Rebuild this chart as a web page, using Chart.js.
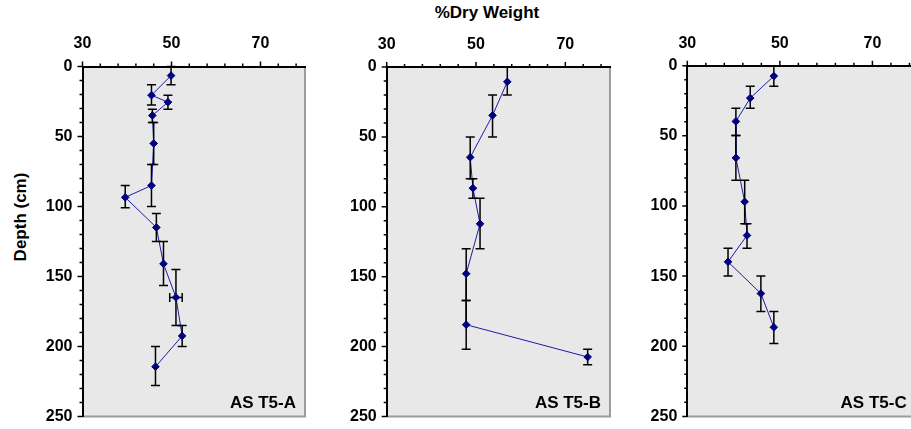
<!DOCTYPE html>
<html>
<head>
<meta charset="utf-8">
<script src="https://cdn.jsdelivr.net/npm/chart.js@4.4.1/dist/chart.umd.min.js"></script>
<style>
  html, body { margin: 0; padding: 0; overflow: hidden; background: #fff; }
  body { width: 911px; height: 429px; position: relative; font-family: "Liberation Sans", Arial, sans-serif; }
  canvas { position: absolute; top: 0; }
  .lbl { position: absolute; font-weight: bold; font-size: 17px; color: #000; white-space: nowrap; }
</style>
</head>
<body>
<div class="lbl" id="xt" style="left:487px; top:13px; transform:translate(-50%,-50%);">%Dry Weight</div>
<div class="lbl" id="yt" style="left:21px; top:217px; transform:translate(-50%,-50%) rotate(-90deg);">Depth (cm)</div>
<canvas id="cA" width="310" height="436" style="left:0px"></canvas>
<canvas id="cB" width="305" height="436" style="left:310px"></canvas>
<canvas id="cC" width="311" height="436" style="left:615px"></canvas>
<script>
/* tick values / labels */
const xTickValues = [30, 34, 38, 42, 46, 50, 54, 58, 62, 66, 70, 74, 78];
const xTickLabels = [30, 50, 70];
const yTickValues = [0, 10, 20, 30, 40, 50, 60, 70, 80, 90, 100, 110, 120, 130, 140, 150, 160, 170, 180, 190, 200, 210, 220, 230, 240, 250];
const yTickLabels = [0, 50, 100, 150, 200, 250];

/* AS T5-A */
const dryA   = [49.9, 45.5, 49.2, 45.7, 46.0, 45.5, 39.6, 46.6, 48.2, 51.0, 52.4, 46.4];
const depthA = [6.5, 20.5, 25.5, 35, 55, 85, 93.5, 115, 141, 165, 192.5, 214.5];
const topA   = [0, 13, 20.5, 30.5, 40, 70, 85, 105, 125, 145, 185, 200];
const botA   = [13, 27.5, 30.5, 40, 70, 100, 101, 125, 156.5, 185, 200, 228];
const xErrA  = [0, 0, 0, 0, 0, 0, 0, 0, 0, 1.4, 0, 0];

/* AS T5-B */
const dryB   = [57.0, 53.7, 48.7, 49.3, 50.9, 47.8, 47.8, 75.0];
const depthB = [10.6, 34.6, 64.6, 86.7, 112.2, 147.9, 184.4, 207.5];
const topB   = [0, 20, 50, 80, 94, 130, 167, 202];
const botB   = [20, 50, 80, 94, 130, 167, 202, 213];
const xErrB  = [0, 0, 0, 0, 0, 0, 0, 0];

/* AS T5-C */
const dryC   = [48.7, 43.6, 40.5, 40.5, 42.4, 42.9, 38.8, 45.9, 48.7];
const depthC = [7.4, 23.1, 39.7, 65.7, 97, 121, 139.8, 162.4, 186.5];
const topC   = [0, 14.7, 30.3, 49.8, 81.6, 112.6, 130.2, 150, 175.2];
const botC   = [14.7, 30.3, 49.8, 81.6, 112.6, 130.2, 150, 175.2, 198];
const xErrC  = [0, 0, 0, 0, 0, 0, 0, 0, 0];

const FONT = "'Liberation Sans', Arial, sans-serif";

// fond gris, bordures, barres d'erreur, petites graduations
const panelPlugin = {
  id: 'panel',
  beforeDraw(chart) {
    const { ctx, chartArea: a } = chart;
    ctx.save();
    ctx.fillStyle = '#e8e8e8';
    ctx.fillRect(a.left, a.top, a.right - a.left, a.bottom - a.top);
    ctx.strokeStyle = '#9c9c9c';
    ctx.lineWidth = 2;
    ctx.beginPath();
    ctx.moveTo(a.left, a.bottom);
    ctx.lineTo(a.right, a.bottom);
    ctx.lineTo(a.right, a.top);
    ctx.stroke();
    ctx.restore();
  },
  afterDatasetDraw(chart, args, opts) {
    if (args.index !== 0) return;
    const { ctx } = chart;
    const xs = chart.scales.x, ys = chart.scales.y;
    const cap = 4.5;
    ctx.save();
    ctx.strokeStyle = '#000';
    ctx.lineWidth = 1.5;
    opts.dry.forEach((v, i) => {
      const x = xs.getPixelForValue(v);
      const y = ys.getPixelForValue(opts.depth[i]);
      const y1 = ys.getPixelForValue(opts.top[i]);
      const y2 = ys.getPixelForValue(opts.bot[i]);
      ctx.beginPath();
      ctx.moveTo(x, y1); ctx.lineTo(x, y2);
      ctx.moveTo(x - cap, y1); ctx.lineTo(x + cap, y1);
      ctx.moveTo(x - cap, y2); ctx.lineTo(x + cap, y2);
      if (opts.xErr[i] > 0) {
        const xa = xs.getPixelForValue(v - opts.xErr[i]);
        const xb = xs.getPixelForValue(v + opts.xErr[i]);
        ctx.moveTo(xa, y); ctx.lineTo(xb, y);
        ctx.moveTo(xa, y - cap); ctx.lineTo(xa, y + cap);
        ctx.moveTo(xb, y - cap); ctx.lineTo(xb, y + cap);
      }
      ctx.stroke();
    });
    ctx.restore();
  },
  afterDraw(chart, args, opts) {
    const { ctx, chartArea: a } = chart;
    const xs = chart.scales.x, ys = chart.scales.y;
    ctx.save();
    ctx.strokeStyle = '#000';
    ctx.lineWidth = 1.5;
    ctx.beginPath();
    xs.ticks.forEach(t => {
      const px = xs.getPixelForValue(t.value);
      const len = xTickLabels.includes(t.value) ? 5 : 3;
      ctx.moveTo(px, a.top); ctx.lineTo(px, a.top - len);
    });
    ys.ticks.forEach(t => {
      const py = ys.getPixelForValue(t.value);
      const len = yTickLabels.includes(t.value) ? 5 : 3;
      ctx.moveTo(a.left, py); ctx.lineTo(a.left - len, py);
    });
    ctx.stroke();
    ctx.fillStyle = '#000';
    ctx.font = 'bold 17px ' + FONT;
    ctx.textAlign = 'right';
    ctx.textBaseline = 'alphabetic';
    ctx.fillText(opts.name, a.right - opts.nameRight, a.bottom - 8);
    ctx.restore();
  }
};

function makePanel(id, name, dry, depth, top, bot, xErr, box) {
  const pts = dry.map((v, i) => ({ x: v, y: depth[i] }));
  return new Chart(document.getElementById(id), {
    type: 'scatter',
    data: {
      datasets: [
        { data: pts, showLine: true, borderColor: '#1c1ca6', borderWidth: 1, pointRadius: 0, order: 2 },
        { data: pts, showLine: false, pointStyle: 'rectRot', pointRadius: 3.8,
          backgroundColor: '#00007c', borderColor: '#00007c', borderWidth: 1, order: 1 }
      ]
    },
    options: {
      responsive: false,
      animation: false,
      events: [],
      layout: { padding: { left: 0, right: box.right, top: 0, bottom: box.bottom } },
      plugins: {
        legend: { display: false },
        tooltip: { enabled: false },
        panel: { name: name, nameRight: box.nameRight, dry: dry, depth: depth, top: top, bot: bot, xErr: xErr }
      },
      scales: {
        x: {
          type: 'linear', position: 'top', min: 30, max: 80,
          afterBuildTicks: s => { s.ticks = xTickValues.map(v => ({ value: v })); },
          afterFit: s => { s.height = box.top; },
          grid: { display: false, drawTicks: false },
          border: { display: true, color: '#000', width: 2 },
          ticks: {
            padding: 13, color: '#000', autoSkip: false, maxRotation: 0,
            font: { family: FONT, size: 16, weight: 'bold' },
            callback: v => xTickLabels.includes(v) ? String(v) : ''
          }
        },
        y: {
          type: 'linear', reverse: true, min: 0, max: 250,
          afterBuildTicks: s => { s.ticks = yTickValues.map(v => ({ value: v })); },
          afterFit: s => { s.width = box.left; },
          grid: { display: false, drawTicks: false },
          border: { display: true, color: '#000', width: 2 },
          ticks: {
            padding: 10, color: '#000', autoSkip: false,
            font: { family: FONT, size: 16, weight: 'bold' },
            callback: v => yTickLabels.includes(v) ? String(v) : ''
          }
        }
      }
    },
    plugins: [panelPlugin]
  });
}

makePanel('cA', 'AS T5-A', dryA, depthA, topA, botA, xErrA, { left: 82.5, right: 4.3, top: 66.5, bottom: 14, nameRight: 9 });
makePanel('cB', 'AS T5-B', dryB, depthB, topB, botB, xErrB, { left: 76.7, right: 4.3, top: 67, bottom: 14.7, nameRight: 9 });
makePanel('cC', 'AS T5-C', dryC, depthC, topC, botC, xErrC, { left: 72.3, right: 7.3, top: 65.7, bottom: 17, nameRight: 12 });
</script>
</body>
</html>
